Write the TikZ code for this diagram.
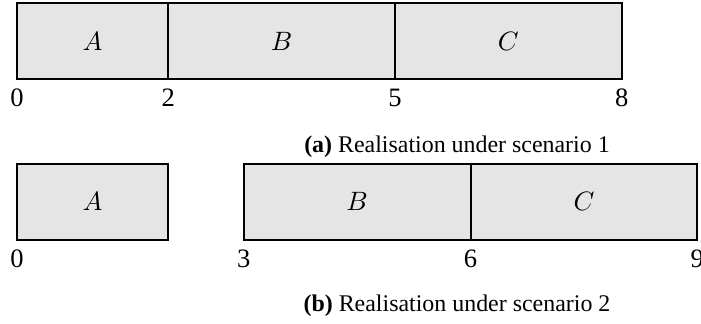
\documentclass[tikz,border=0pt]{standalone}
\usepackage{fontspec}
\setmainfont{Liberation Serif}
\usetikzlibrary{positioning}
\tikzstyle{job}=[draw,fill=gray!20,line width=0.8pt,minimum height=1cm,inner sep=0pt,outer sep=0pt]
\tikzstyle{tick}=[inner sep=0pt]
\tikzstyle{capt}=[inner sep=0pt,anchor=base,font=\fontsize{9}{11}\selectfont]
\begin{document}
\begin{tikzpicture}[font=\fontsize{10}{12}\selectfont]
    \useasboundingbox (-0.225,-3.24) rectangle (9.048,1.045);

    % scenario 1
    \node[job,minimum width=2cm,anchor=south west] (A1) at (0,0) {$A$};
    \node[job,minimum width=3cm,right=0pt of A1] (B1) {$B$};
    \node[job,minimum width=3cm,right=0pt of B1] (C1) {$C$};
    \node[tick,below=3.5pt of A1.south west] (t10) {0};
    \node[tick,below=3.5pt of A1.south east] (t12) {2};
    \node[tick,below=3.5pt of B1.south east] (t15) {5};
    \node[tick,below=3.5pt of C1.south east] (t18) {8};
    \node[capt] (capa) at (5.82,-0.966) {\textbf{(a)} Realisation under scenario 1};

    % scenario 2
    \node[job,minimum width=2cm,anchor=south west] (A2) at (0,-2.125) {$A$};
    \node[job,minimum width=3cm,anchor=south west] (B2) at (3,-2.125) {$B$};
    \node[job,minimum width=3cm,right=0pt of B2] (C2) {$C$};
    \node[tick,below=3.5pt of A2.south west] (t20) {0};
    \node[tick,below=3.5pt of B2.south west] (t23) {3};
    \node[tick,below=3.5pt of B2.south east] (t26) {6};
    \node[tick,below=3.5pt of C2.south east] (t29) {9};
    \node[capt] (capb) at (5.82,-3.08) {\textbf{(b)} Realisation under scenario 2};
\end{tikzpicture}
\end{document}
